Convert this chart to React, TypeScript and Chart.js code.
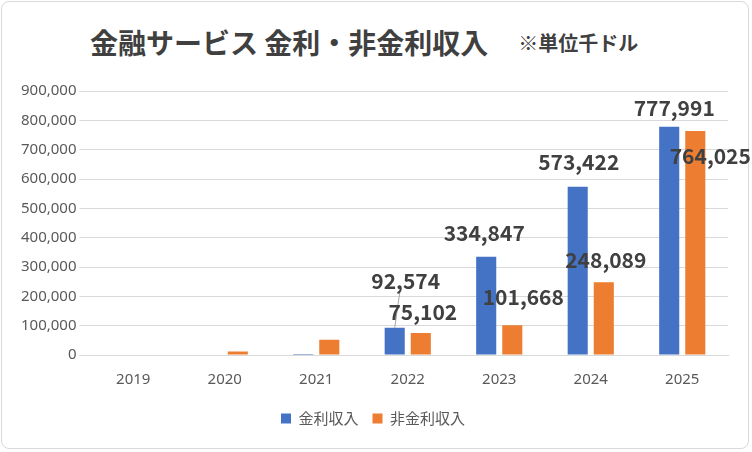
import React, { useEffect, useRef } from "react";
import { Chart, registerables } from "chart.js";
Chart.register(...registerables);

const categories = ["2019", "2020", "2021", "2022", "2023", "2024", "2025"];
const interestIncome = [0, 0, 3000, 92574, 334847, 573422, 777991];
const nonInterestIncome = [0, 12000, 52000, 75102, 101668, 248089, 764025];
const blueLabels = ["", "", "", "92,574", "334,847", "573,422", "777,991"];
const orangeLabels = ["", "", "", "75,102", "101,668", "248,089", "764,025"];

const blueOff = [[0, 0], [0, 0], [0, 0], [11, -47], [-2, -24], [1, -25], [5, -19]];
const orangeOff = [[0, 0], [0, 0], [0, 0], [2, -21], [11, -28], [2, -22], [15, 25]];

const labelPlugin = {
  id: "labels",
  afterDatasetsDraw(chart: any) {
    const ctx = chart.ctx;
    ctx.save();
    ctx.font = "bold 21px 'Noto Sans CJK JP', sans-serif";
    ctx.fillStyle = "#404040";
    ctx.textAlign = "center";
    ctx.textBaseline = "middle";
    [[0, blueLabels, blueOff], [1, orangeLabels, orangeOff]].forEach(([di, labels, off]: any) => {
      chart.getDatasetMeta(di).data.forEach((el: any, i: number) => {
        if (!labels[i]) return;
        const x = el.x + off[i][0];
        const y = el.y + off[i][1];
        if (di === 0 && i === 3) {
          ctx.strokeStyle = "#a6a6a6";
          ctx.lineWidth = 1;
          ctx.beginPath();
          ctx.moveTo(x - 6, y + 12);
          ctx.lineTo(el.x, el.y);
          ctx.stroke();
        }
        ctx.fillText(labels[i], x, y);
      });
    });
    ctx.restore();
  },
};

export default function App() {
  const ref = useRef<HTMLCanvasElement>(null);
  useEffect(() => {
    document.body.style.margin = "0";
    const chart = new Chart(ref.current!, {
      type: "bar",
      data: {
        labels: categories,
        datasets: [
          { label: "金利収入", data: interestIncome, backgroundColor: "#4472c4", barPercentage: 0.77, categoryPercentage: 0.57 },
          { label: "非金利収入", data: nonInterestIncome, backgroundColor: "#ed7d31", barPercentage: 0.77, categoryPercentage: 0.57 },
        ],
      },
      options: {
        animation: false,
        responsive: false,
        layout: { padding: { top: 91, left: 18, right: 24, bottom: 16 } },
        plugins: {
          legend: {
            position: "bottom",
            labels: { boxWidth: 10, boxHeight: 10, color: "#595959", font: { size: 15, family: "'Noto Sans CJK JP', sans-serif" }, padding: 14 },
          },
          tooltip: { enabled: false },
        },
        scales: {
          x: {
            grid: { display: false },
            border: { color: "#d9d9d9" },
            ticks: { color: "#595959", font: { size: 15, family: "'Noto Sans', sans-serif" }, padding: 8 },
          },
          y: {
            min: 0,
            max: 900000,
            ticks: { stepSize: 100000, color: "#595959", font: { size: 15, family: "'Noto Sans', sans-serif" }, callback: (v: any) => Number(v).toLocaleString("en-US") },
            grid: { color: "#d9d9d9" },
            border: { display: false },
          },
        },
      },
      plugins: [labelPlugin],
    });
    return () => chart.destroy();
  }, []);
  return (
    <div style={{ position: "relative", width: 752, height: 452 }}>
      <div style={{ position: "absolute", left: 1, top: 1, width: 748, height: 448, border: "1px solid #d9d9d9", borderRadius: 8, boxSizing: "border-box" }} />
      <div style={{ position: "absolute", left: 90, top: 22, fontFamily: "'Noto Sans CJK JP', sans-serif", color: "#404040", fontWeight: "bold", whiteSpace: "nowrap", display: "flex", alignItems: "center" }}>
        <span style={{ fontSize: 28 }}>金融サービス 金利・非金利収入</span>
        <span style={{ fontSize: 20, marginLeft: 30 }}>※単位千ドル</span>
      </div>
      <canvas ref={ref} width={752} height={452} style={{ position: "absolute", left: 0, top: 0 }} />
    </div>
  );
}
